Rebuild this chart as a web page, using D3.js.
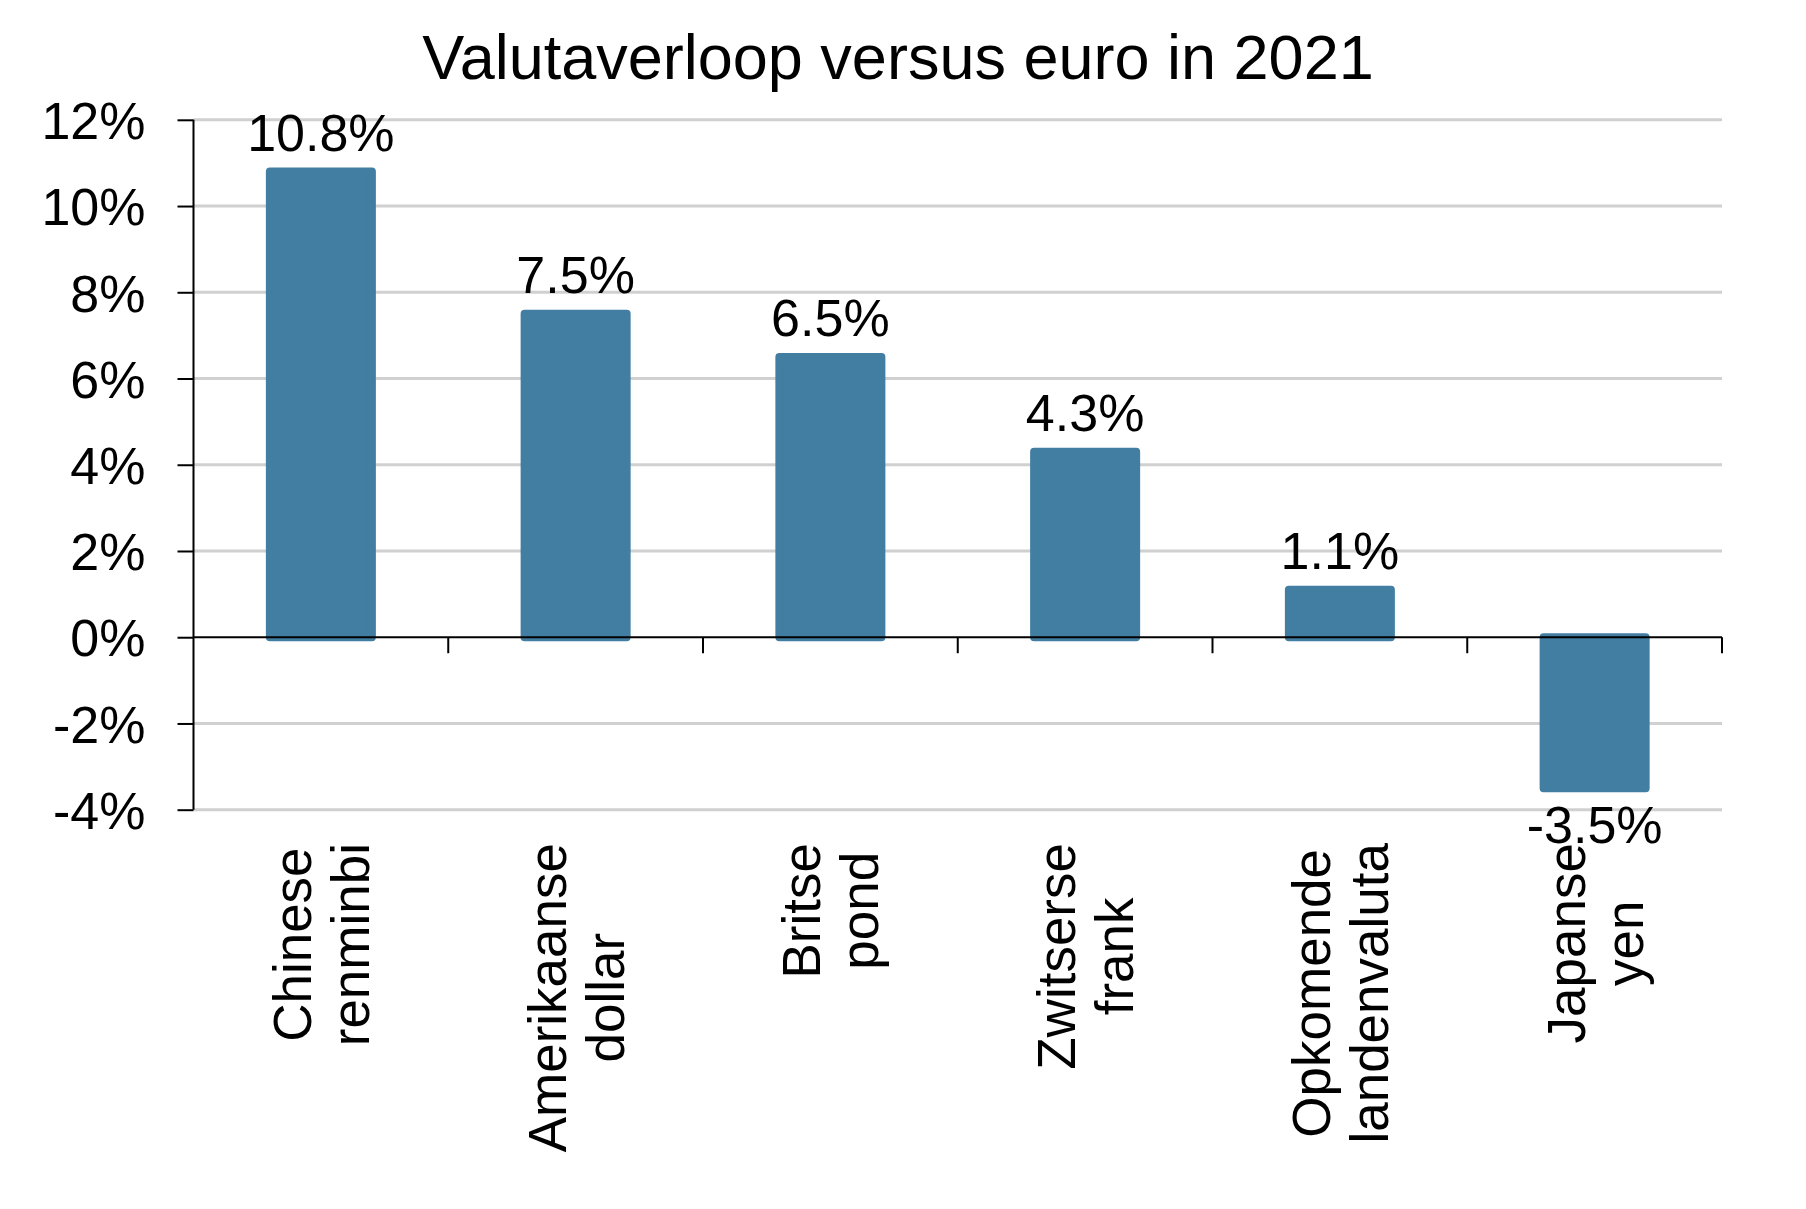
<!DOCTYPE html>
<html>
<head>
<meta charset="utf-8">
<script src="https://cdn.jsdelivr.net/npm/d3@7"></script>
<style>
  html, body { margin: 0; padding: 0; background: #fff; }
  svg { display: block; font-family: "Liberation Sans", Arial, sans-serif; }
</style>
</head>
<body>
<svg id="chart" width="1806" height="1209"></svg>
<script>
const title = "Valutaverloop versus euro in 2021";
const categories = [
  ["Chinese", "renminbi"],
  ["Amerikaanse", "dollar"],
  ["Britse", "pond"],
  ["Zwitserse", "frank"],
  ["Opkomende", "landenvaluta"],
  ["Japanse", "yen"]
];
const values = [10.8, 7.5, 6.5, 4.3, 1.1, -3.5];
const valueLabels = ["10.8%", "7.5%", "6.5%", "4.3%", "1.1%", "-3.5%"];
const yTicks = [-4, -2, 0, 2, 4, 6, 8, 10, 12];
const yTickLabels = ["-4%", "-2%", "0%", "2%", "4%", "6%", "8%", "10%", "12%"];

const svg = d3.select("#chart");
const plotLeft = 193.5, plotRight = 1722, plotTop = 119.8, plotBottom = 809.7;
const barColor = "#417ea2";

const keys = categories.map(d => d.join(" "));
const x = d3.scaleBand().domain(keys).range([plotLeft, plotRight]).paddingInner(0.576).paddingOuter(0.288);
const y = d3.scaleLinear().domain([-4, 12]).range([plotBottom, plotTop]);

// title
svg.append("text")
  .attr("x", 898).attr("y", 79)
  .attr("text-anchor", "middle")
  .attr("font-size", 63)
  .attr("fill", "#000")
  .text(title);

// gridlines
svg.append("g").selectAll("line")
  .data(yTicks.filter(t => t !== 0))
  .join("line")
  .attr("x1", plotLeft).attr("x2", plotRight)
  .attr("y1", d => y(d)).attr("y2", d => y(d))
  .attr("stroke", "#d0d0d0").attr("stroke-width", 3);

// bars
svg.append("g").selectAll("rect")
  .data(values)
  .join("rect")
  .attr("x", (d, i) => x(keys[i]) + 3)
  .attr("width", x.bandwidth() - 6)
  .attr("y", d => Math.min(y(d), y(0)))
  .attr("height", d => Math.abs(y(d) - y(0)))
  .attr("fill", barColor)
  .attr("stroke", barColor)
  .attr("stroke-width", 8)
  .attr("stroke-linejoin", "round");

// y axis
const yAxis = d3.axisLeft(y).tickValues(yTicks).tickSize(16)
  .tickFormat((d, i) => yTickLabels[i]);
const gy = svg.append("g").attr("transform", `translate(${plotLeft},0)`).call(yAxis);
gy.select(".domain").attr("stroke", "#000").attr("stroke-width", 2)
  .attr("d", `M0,${y(12)}V${y(-4)}`);
gy.selectAll(".tick line").attr("stroke", "#000").attr("stroke-width", 2);
gy.selectAll(".tick text")
  .attr("font-size", 52)
  .attr("font-family", "Liberation Sans, Arial, sans-serif")
  .attr("fill", "#000")
  .attr("x", -48)
  .attr("dy", "0.36em");

// x axis at zero with ticks at category boundaries
const bounds = d3.range(keys.length + 1).map(i => plotLeft + i * x.step());
const gx = svg.append("g");
gx.append("line")
  .attr("x1", plotLeft).attr("x2", plotRight)
  .attr("y1", y(0)).attr("y2", y(0))
  .attr("stroke", "#000").attr("stroke-width", 2);
gx.selectAll("line.tk").data(bounds.slice(1)).join("line")
  .attr("class", "tk")
  .attr("x1", d => d).attr("x2", d => d)
  .attr("y1", y(0)).attr("y2", y(0) + 16)
  .attr("stroke", "#000").attr("stroke-width", 2);

// value labels
svg.append("g").selectAll("text")
  .data(values)
  .join("text")
  .attr("x", (d, i) => x(keys[i]) + x.bandwidth() / 2)
  .attr("y", d => d >= 0 ? y(d) - 21 : y(d) + 55)
  .attr("text-anchor", "middle")
  .attr("font-size", 52)
  .attr("fill", "#000")
  .text((d, i) => valueLabels[i]);

// category labels, rotated, two lines centred, block top at fixed y
const labelTop = 843;
const lineH = 58;
const catG = svg.append("g");
categories.forEach((lines, i) => {
  const cx = x(keys[i]) + x.bandwidth() / 2;
  const g = catG.append("g").attr("transform", `translate(${cx},${labelTop}) rotate(-90)`);
  const texts = lines.map((ln, j) => g.append("text")
    .attr("font-size", 53)
    .attr("fill", "#000")
    .attr("text-anchor", "middle")
    .attr("y", (j - (lines.length - 1) / 2) * lineH + 19)
    .text(ln));
  const maxLen = d3.max(texts, t => t.node().getComputedTextLength());
  texts.forEach(t => t.attr("x", -maxLen / 2));
});
</script>
</body>
</html>
